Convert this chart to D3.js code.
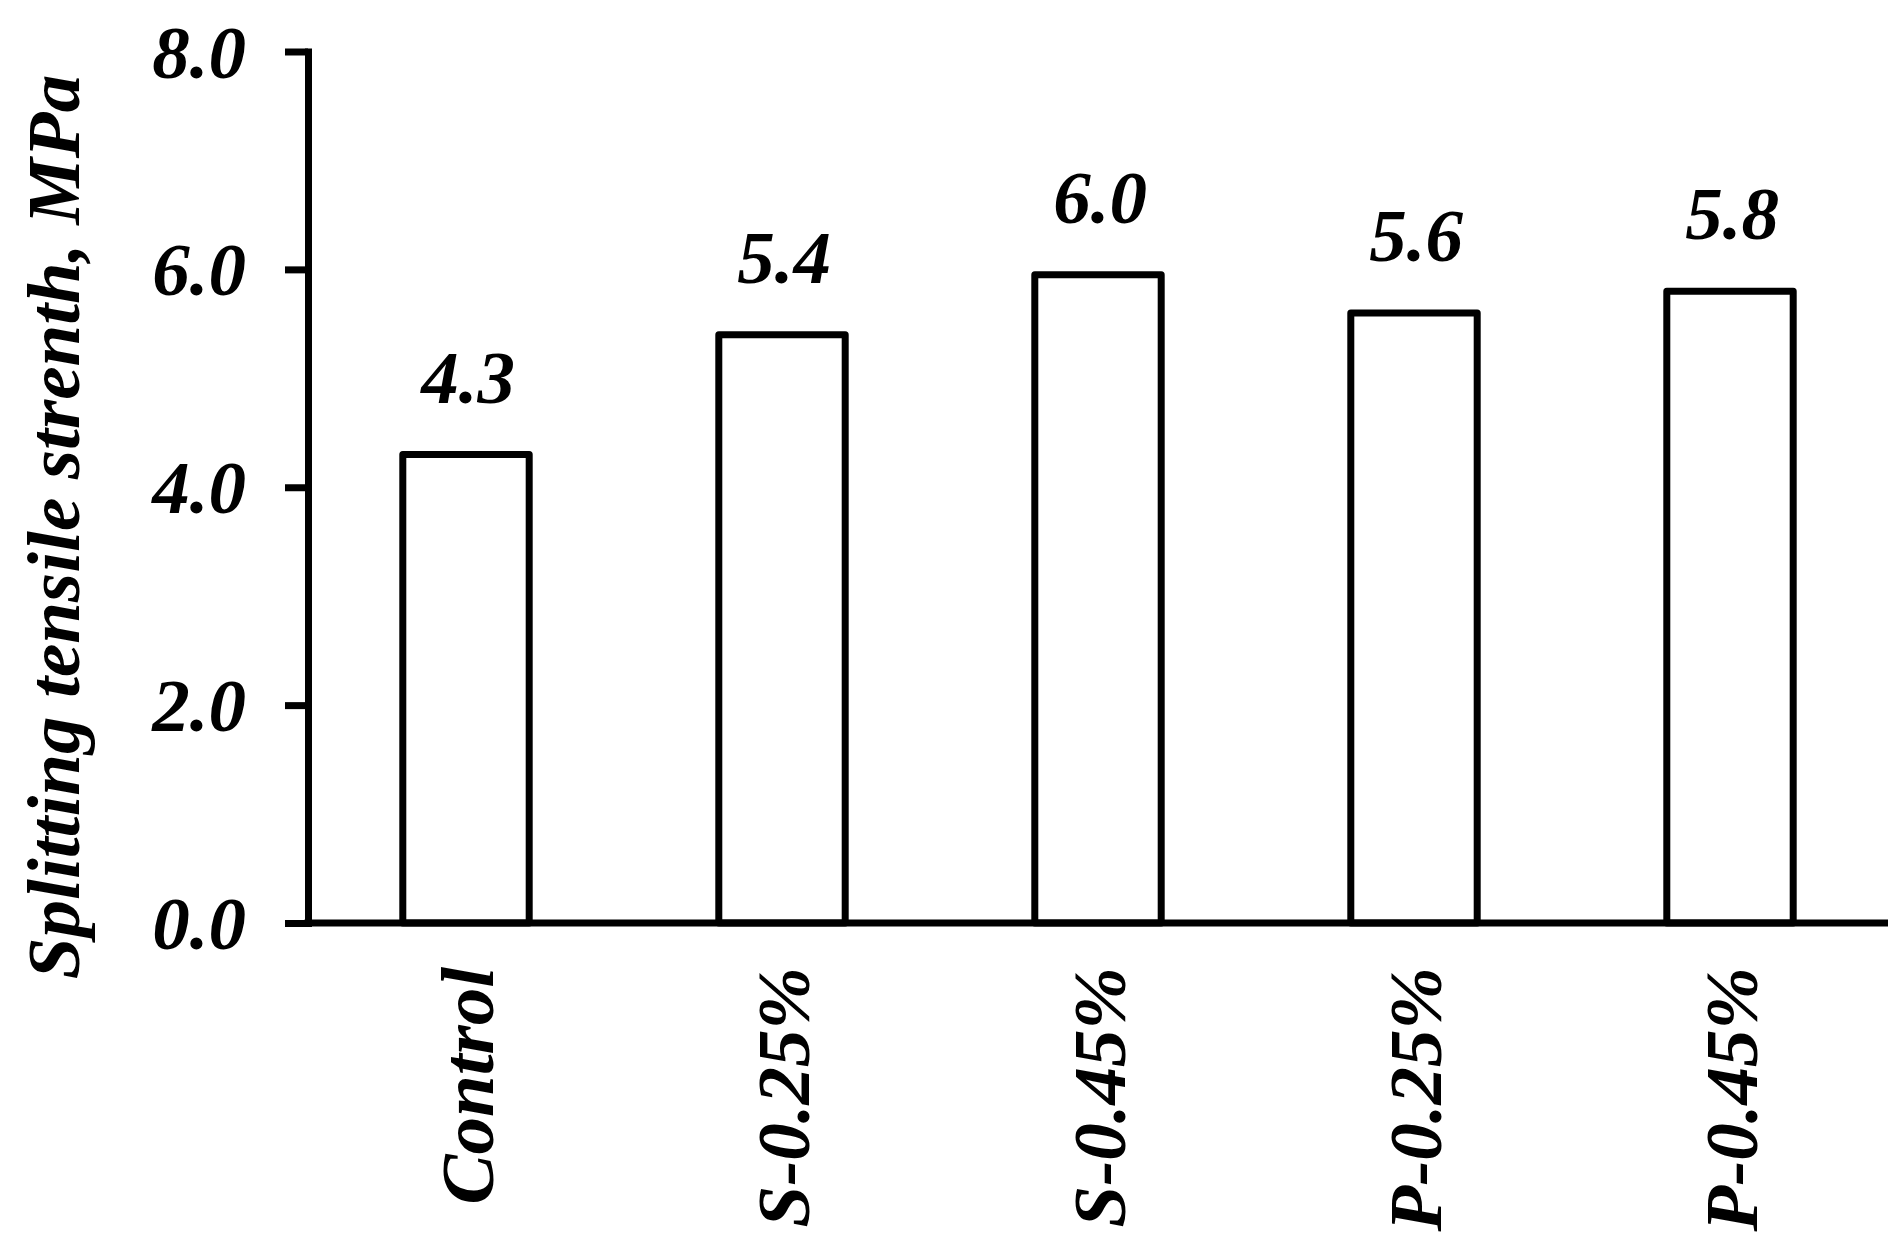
<!DOCTYPE html>
<html>
<head>
<meta charset="utf-8">
<script src="https://cdn.jsdelivr.net/npm/d3@7"></script>
<style>
  html, body { margin: 0; padding: 0; background: #fff; }
  svg { display: block; }
  text { font-family: "Liberation Serif", "Times New Roman", serif; font-weight: bold; font-style: italic; fill: #000; }
</style>
</head>
<body>
<svg id="chart" width="1903" height="1259"></svg>
<script>
const categories = ["Control", "S-0.25%", "S-0.45%", "P-0.25%", "P-0.45%"];
const values = [4.3, 5.4, 5.95, 5.6, 5.8];
const valueLabels = ["4.3", "5.4", "6.0", "5.6", "5.8"];
const yTicks = [0, 2, 4, 6, 8];
const yTitle = "Splitting tensile strenth, MPa";

(function () {
const svg = d3.select("#chart");
const mLeft = 308, mRight = 1888, mTop = 51.5, mBottom = 923;

const x = d3.scaleBand().domain(categories).range([mLeft, mRight]).paddingInner(0.6).paddingOuter(0.3);
const y = d3.scaleLinear().domain([0, 8]).range([mBottom, mTop]);

// bars
svg.append("g").selectAll("rect").data(values).join("rect")
  .attr("x", (d, i) => x(categories[i]))
  .attr("width", x.bandwidth())
  .attr("y", d => y(d))
  .attr("height", d => y(0) - y(d))
  .attr("fill", "#fff")
  .attr("stroke", "#000")
  .attr("stroke-width", 7)
  .attr("stroke-linejoin", "round");

// value labels
svg.append("g").selectAll("text").data(values).join("text")
  .attr("x", (d, i) => x(categories[i]) + x.bandwidth() / 2 + 2)
  .attr("y", d => y(d) - 52)
  .attr("text-anchor", "middle")
  .attr("font-size", 75)
  .text((d, i) => valueLabels[i]);

// y axis
const yAxis = svg.append("g").attr("transform", `translate(${mLeft},0)`)
  .call(d3.axisLeft(y).tickValues(yTicks).tickSize(23).tickSizeOuter(0).tickPadding(0).tickFormat(d3.format(".1f")));
yAxis.attr("font-family", null).attr("font-size", null);
yAxis.select(".domain").attr("stroke", "#000").attr("stroke-width", 7).attr("stroke-linecap", "square");
yAxis.selectAll(".tick line").attr("stroke", "#000").attr("stroke-width", 7);
yAxis.selectAll(".tick text")
  .attr("x", -62)
  .attr("dy", "0.34em")
  .attr("font-size", 75)
  .attr("fill", "#000");

// x axis
const xAxis = svg.append("g").attr("transform", `translate(0,${mBottom})`)
  .call(d3.axisBottom(x).tickSize(0).tickSizeOuter(0));
xAxis.attr("font-family", null).attr("font-size", null);
xAxis.select(".domain").attr("stroke", "#000").attr("stroke-width", 7).attr("stroke-linecap", "butt")
  .attr("d", `M${mLeft - 3.5},0H${mRight}`);
xAxis.selectAll(".tick text")
  .attr("transform", "rotate(-90)")
  .attr("text-anchor", "end")
  .attr("x", -44)
  .attr("y", 0)
  .attr("dy", 27)
  .attr("font-size", 75)
  .attr("fill", "#000");

// y title
svg.append("text")
  .attr("transform", `translate(79,527) rotate(-90)`)
  .attr("text-anchor", "middle")
  .attr("font-size", 75)
  .text(yTitle);
})();
</script>
</body>
</html>
